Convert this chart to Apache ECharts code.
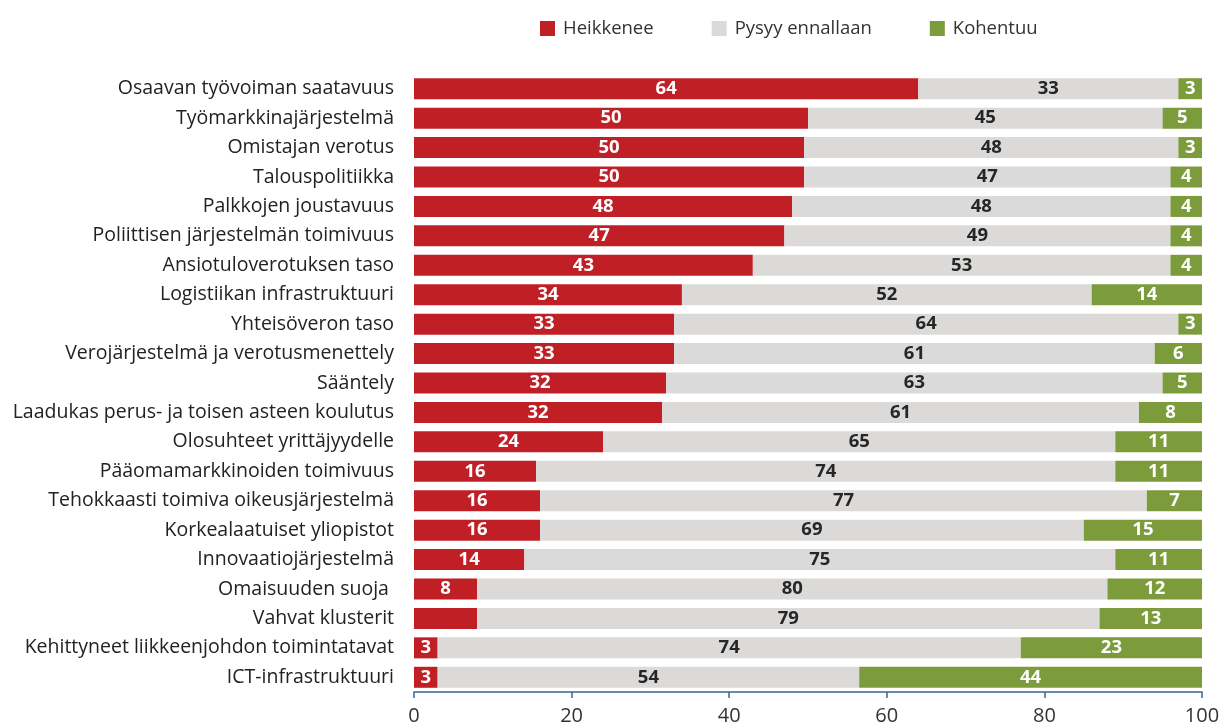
<!DOCTYPE html>
<html>
<head>
<meta charset="utf-8">
<script src="https://cdn.jsdelivr.net/npm/echarts@6/dist/echarts.min.js"></script>
<style>
  html, body { margin: 0; padding: 0; background: #fff; }
  #chart { width: 1230px; height: 726px; }
</style>
</head>
<body>
<div id="chart"></div>
<script>
const categories = [
  'Osaavan työvoiman saatavuus',
  'Työmarkkinajärjestelmä',
  'Omistajan verotus',
  'Talouspolitiikka',
  'Palkkojen joustavuus',
  'Poliittisen järjestelmän toimivuus',
  'Ansiotuloverotuksen taso',
  'Logistiikan infrastruktuuri',
  'Yhteisöveron taso',
  'Verojärjestelmä ja verotusmenettely',
  'Sääntely',
  'Laadukas perus- ja toisen asteen koulutus',
  'Olosuhteet yrittäjyydelle',
  'Pääomamarkkinoiden toimivuus',
  'Tehokkaasti toimiva oikeusjärjestelmä',
  'Korkealaatuiset yliopistot',
  'Innovaatiojärjestelmä',
  'Omaisuuden suoja ',
  'Vahvat klusterit',
  'Kehittyneet liikkeenjohdon toimintatavat',
  'ICT-infrastruktuuri'
];

const heikkenee = [64, 50, 49.5, 49.5, 48, 47, 43, 34, 33, 33, 32, 31.5, 24, 15.5, 16, 16, 14, 8, 8, 3, 3];
const pysyy     = [33, 45, 47.5, 46.5, 48, 49, 53, 52, 64, 61, 63, 60.5, 65, 73.5, 77, 69, 75, 80, 79, 74, 53.5];
const kohentuu  = [3, 5, 3, 4, 4, 4, 4, 14, 3, 6, 5, 8, 11, 11, 7, 15, 11, 12, 13, 23, 43.5];

// bars whose red value label is left out in the original
const hiddenRedLabels = [18];

const xTicks = [0, 20, 40, 60, 80, 100];

const RED = '#c11f26';
const GREY = '#dbdad8';
const GREEN = '#7c9b3b';

const chart = echarts.init(document.getElementById('chart'));

const labelBase = {
  show: true,
  position: 'inside',
  fontFamily: 'Open Sans',
  fontSize: 18.5,
  fontWeight: 'bold',
  formatter: p => Math.round(p.value)
};

const option = {
  animation: false,
  legend: {
    top: 14,
    left: 535,
    itemWidth: 15,
    itemHeight: 15,
    itemGap: 58,
    icon: 'rect',
    textStyle: {
      fontFamily: 'Open Sans',
      fontSize: 18.5,
      color: '#333',
      padding: [0, 0, 0, 3]
    },
    data: ['Heikkenee', 'Pysyy ennallaan', 'Kohentuu']
  },
  grid: {
    left: 414,
    right: 28,
    top: 74,
    bottom: 33
  },
  xAxis: {
    type: 'value',
    min: xTicks[0],
    max: xTicks[xTicks.length - 1],
    interval: 20,
    splitLine: { show: false },
    axisLine: { show: true, lineStyle: { color: '#3d6595', width: 1.5 } },
    axisTick: { show: true, length: 6, lineStyle: { color: '#3d6595', width: 1.5 } },
    axisLabel: {
      fontFamily: 'Open Sans',
      fontSize: 20,
      color: '#333',
      margin: 14
    }
  },
  yAxis: {
    type: 'category',
    inverse: true,
    data: categories,
    axisLine: { show: false },
    axisTick: { show: false },
    axisLabel: {
      fontFamily: 'Open Sans',
      fontSize: 19.5,
      color: '#222',
      margin: 20
    }
  },
  series: [
    {
      name: 'Heikkenee',
      type: 'bar',
      stack: 'all',
      barWidth: 21,
      itemStyle: { color: RED },
      label: Object.assign({}, labelBase, { color: '#fff' }),
      data: heikkenee.map((v, i) =>
        hiddenRedLabels.includes(i) ? { value: v, label: { show: false } } : v)
    },
    {
      name: 'Pysyy ennallaan',
      type: 'bar',
      stack: 'all',
      barWidth: 21,
      itemStyle: { color: GREY },
      label: Object.assign({}, labelBase, { color: '#262626' }),
      data: pysyy
    },
    {
      name: 'Kohentuu',
      type: 'bar',
      stack: 'all',
      barWidth: 21,
      itemStyle: { color: GREEN },
      label: Object.assign({}, labelBase, { color: '#fff' }),
      data: kohentuu
    }
  ]
};

chart.setOption(option);
</script>
</body>
</html>
